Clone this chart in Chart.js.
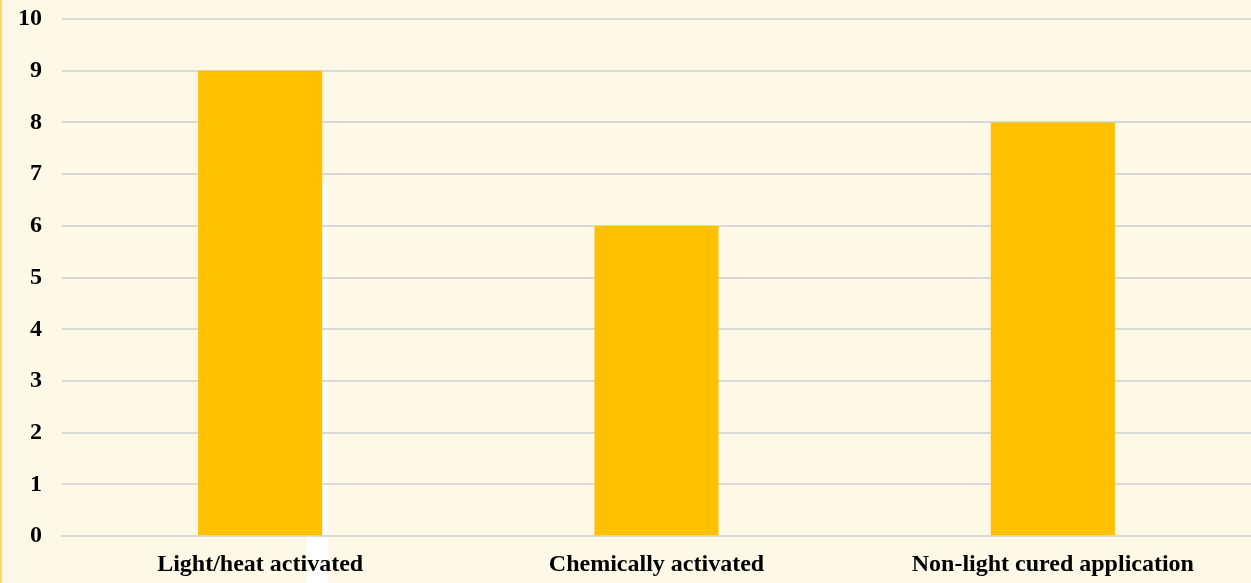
<!DOCTYPE html>
<html>
<head>
<meta charset="utf-8">
<script src="https://cdn.jsdelivr.net/npm/chart.js"></script>
<style>
  html, body { margin: 0; padding: 0; background: #FEF8E7; }
  #wrap { width: 1251px; height: 583px; position: relative; }
</style>
</head>
<body>
<div id="wrap"><canvas id="c"></canvas></div>
<script>
const categories = ["Light/heat activated", "Chemically activated", "Non-light cured application"];
const values = [9, 6, 8];
const yTicks = [0, 1, 2, 3, 4, 5, 6, 7, 8, 9, 10];

const decor = {
  id: 'decor',
  beforeDraw(chart) {
    const ctx = chart.ctx;
    ctx.save();
    ctx.fillStyle = '#FEF8E7';
    ctx.fillRect(0, 0, chart.width, chart.height);
    ctx.fillStyle = '#FFD966';
    ctx.fillRect(0, 0, 2, chart.height);
    const meta = chart.getDatasetMeta(0);
    const bar = meta.data[0];
    if (bar) {
      const right = bar.x + bar.width / 2;
      const ys = chart.scales.y;
      const top = ys.getPixelForValue(6.8);
      const base = ys.getPixelForValue(0);
      ctx.fillStyle = '#FFFFFF';
      ctx.fillRect(right, top, 6, base - top);
      ctx.fillRect(right - 15, base, 21, chart.height - base);
    }
    ctx.restore();
  }
};

new Chart(document.getElementById('c'), {
  type: 'bar',
  data: {
    labels: categories,
    datasets: [{
      data: values,
      backgroundColor: '#FFC000',
      borderWidth: 0,
      barPercentage: 0.313,
      categoryPercentage: 1.0
    }]
  },
  options: {
    responsive: true,
    maintainAspectRatio: false,
    animation: false,
    layout: { padding: { left: -2, right: 0, top: 19, bottom: -10 } },
    plugins: { legend: { display: false }, tooltip: { enabled: false } },
    scales: {
      x: {
        grid: { display: false, drawTicks: false },
        border: { display: true, color: '#D9D9D9', width: 2 },
        ticks: {
          color: '#000000',
          padding: 14,
          maxRotation: 0,
          font: { family: '"Liberation Serif", "Times New Roman", serif', size: 24, weight: 'bold' }
        }
      },
      y: {
        min: 0,
        max: 10,
        afterBuildTicks(axis) { axis.ticks = yTicks.map(v => ({ value: v })); },
        afterFit(scale) { scale.paddingTop = 0; scale.paddingBottom = 0; },
        grid: { color: '#D9D9D9', lineWidth: 2, drawTicks: false },
        border: { display: false },
        ticks: {
          color: '#000000',
          padding: 20,
          font: { family: '"Liberation Serif", "Times New Roman", serif', size: 24, weight: 'bold' }
        }
      }
    }
  },
  plugins: [decor]
});
</script>
</body>
</html>
